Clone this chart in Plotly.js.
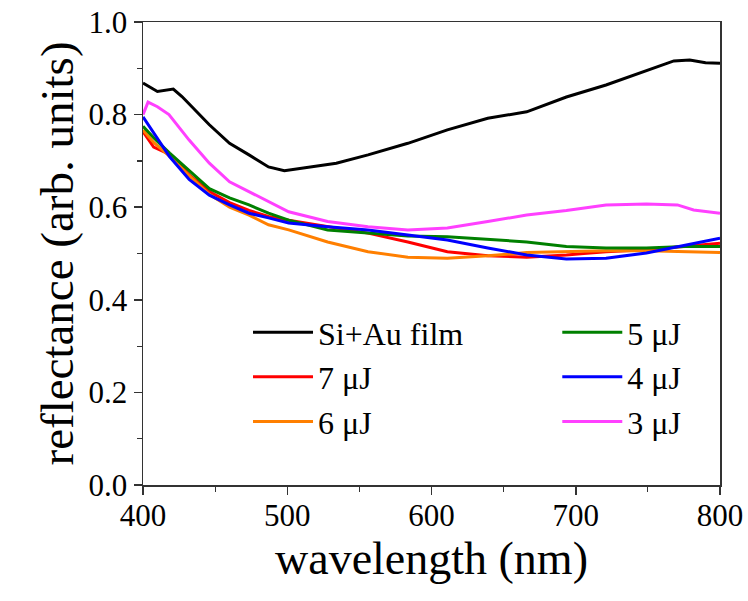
<!DOCTYPE html>
<html>
<head>
<meta charset="utf-8">
<script src="https://cdn.plot.ly/plotly-3.0.1.min.js"></script>
<style>html,body{margin:0;padding:0;background:#fff;}#chart{width:748px;height:601px;}</style>
</head>
<body>
<div id="chart"></div>
<script>
// Series data (wavelength in nm, reflectance in arb. units)
const wlBlack = [400, 410, 421, 427, 446, 460, 473.5, 487, 498, 515, 534, 556, 583.6, 611, 639, 666, 693.5, 721, 748.7, 768, 779, 790, 800];
const rBlack  = [0.868, 0.85, 0.855, 0.839, 0.778, 0.738, 0.713, 0.687, 0.679, 0.687, 0.695, 0.713, 0.738, 0.767, 0.792, 0.806, 0.838, 0.864, 0.895, 0.916, 0.918, 0.912, 0.911];

const wl3 = [400, 403.5, 410, 418, 432, 446, 460, 479, 501, 528, 556, 583.6, 611, 639, 666, 693.5, 721, 749, 770.5, 781.7, 800];
const r3  = [0.80, 0.827, 0.817, 0.80, 0.745, 0.695, 0.655, 0.625, 0.59, 0.569, 0.558, 0.551, 0.555, 0.569, 0.583, 0.593, 0.605, 0.607, 0.605, 0.594, 0.587];

const wlC = [400, 407.4, 418.5, 432, 446, 460, 473.5, 487, 501, 528, 556, 583.6, 611, 639, 666, 693.5, 721, 749, 776, 800];
const r4  = [0.795, 0.76, 0.709, 0.66, 0.626, 0.605, 0.587, 0.577, 0.566, 0.558, 0.551, 0.54, 0.529, 0.512, 0.497, 0.488, 0.49, 0.501, 0.518, 0.533];
const r5  = [0.775, 0.75, 0.717, 0.68, 0.64, 0.62, 0.605, 0.587, 0.572, 0.551, 0.544, 0.538, 0.536, 0.531, 0.525, 0.515, 0.512, 0.512, 0.515, 0.515];
const r6  = [0.767, 0.74, 0.71, 0.668, 0.628, 0.60, 0.583, 0.562, 0.551, 0.525, 0.504, 0.492, 0.49, 0.495, 0.502, 0.504, 0.506, 0.506, 0.504, 0.502];
const r7  = [0.763, 0.73, 0.714, 0.67, 0.634, 0.61, 0.593, 0.58, 0.572, 0.558, 0.544, 0.525, 0.504, 0.495, 0.492, 0.497, 0.504, 0.508, 0.515, 0.522];

const names  = ['Si+Au film', '7 μJ', '6 μJ', '5 μJ', '4 μJ', '3 μJ'];
const colors = ['#000000', '#ff0000', '#ff7f00', '#008000', '#0000ff', '#ff40ff'];
const xs = [wlBlack, wlC, wlC, wlC, wlC, wl3];
const ys = [rBlack, r7, r6, r5, r4, r3];
const legends = ['legend', 'legend', 'legend', 'legend2', 'legend2', 'legend2'];

const xTicks = [400, 500, 600, 700, 800];
const yTicks = [0.0, 0.2, 0.4, 0.6, 0.8, 1.0];

const FONT = '"Liberation Serif", "Times New Roman", serif';

const traces = names.map((n, i) => ({
  x: xs[i], y: ys[i], name: n, type: 'scatter', mode: 'lines',
  line: {color: colors[i], width: 3}, legend: legends[i]
}));

const legendStyle = {
  font: {family: FONT, size: 32, color: '#000'},
  bgcolor: 'rgba(0,0,0,0)', borderwidth: 0,
  itemwidth: 60, tracegroupgap: 0,
  xanchor: 'left', yanchor: 'top'
};

const layout = {
  width: 748, height: 601,
  margin: {l: 143, r: 28, t: 22, b: 116},
  paper_bgcolor: '#fff', plot_bgcolor: '#fff',
  font: {family: FONT, color: '#000'},
  showlegend: true,
  legend: Object.assign({x: 0.182, y: 0.389}, legendStyle),
  legend2: Object.assign({x: 0.718, y: 0.389}, legendStyle),
  xaxis: {
    range: [400, 800], tickvals: xTicks, ticktext: xTicks.map(String),
    ticks: 'outside', ticklen: 8, tickwidth: 1.5, tickcolor: '#333',
    minor: {dtick: 50, tick0: 400, ticks: 'outside', ticklen: 5, tickwidth: 1.2, tickcolor: '#333'},
    showline: true, linecolor: '#333', linewidth: 1.5, mirror: true,
    showgrid: false, zeroline: false, ticklabelstandoff: -6,
    tickfont: {family: FONT, size: 31, color: '#000'},
    title: {text: 'wavelength (nm)', font: {family: FONT, size: 46, color: '#000'}, standoff: 10}
  },
  yaxis: {
    range: [0, 1], tickvals: yTicks, ticktext: yTicks.map(v => v.toFixed(1)),
    ticks: 'outside', ticklen: 8, tickwidth: 1.5, tickcolor: '#333',
    minor: {dtick: 0.1, tick0: 0, ticks: 'outside', ticklen: 5, tickwidth: 1.2, tickcolor: '#333'},
    showline: true, linecolor: '#333', linewidth: 1.5, mirror: true,
    showgrid: false, zeroline: false,
    tickfont: {family: FONT, size: 31, color: '#000'},
    title: {text: 'reflectance (arb. units)', font: {family: FONT, size: 47, color: '#000'}, standoff: 0}
  }
};

Plotly.newPlot('chart', traces, layout, {displayModeBar: false, staticPlot: true});
</script>
</body>
</html>
